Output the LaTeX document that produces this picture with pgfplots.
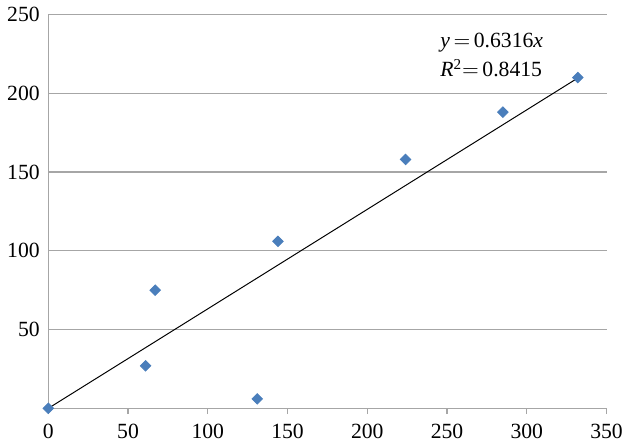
\documentclass[border=0pt]{standalone}
\usepackage{pgfplots}
\pgfplotsset{compat=1.18}
\usepackage{fontspec}
\setmainfont{Liberation Serif}
\definecolor{mkblue}{HTML}{4A7EBB}
\definecolor{gridgray}{HTML}{A6A6A6}
\begin{document}
\fontsize{11}{13}\selectfont
\begin{tikzpicture}
\begin{axis}[
  scale only axis,
  width=283.5pt, height=200pt,
  xmin=0, xmax=350, ymin=0, ymax=250,
  xtick={0,50,...,350},
  ytick={50,100,...,250},
  axis x line*=bottom,
  axis y line*=left,
  axis line style={gridgray, line width=0.6pt, -},
  ymajorgrids,
  grid style={gridgray, line width=0.6pt},
  x tick style={gridgray, line width=0.6pt},
  xtick align=outside,
  major tick length=3pt,
  y tick style={draw=none},
  tick label style={font=\fontsize{11}{13}\selectfont},
  /pgf/number format/assume math mode=true,
  xticklabel style={yshift=-1pt},
  yticklabel style={xshift=-0.5pt},
  clip=false,
]
\addplot[black, line width=0.5pt] coordinates {(0,0) (332,209.7)};
\addplot[only marks, mark=square*, mark size=1.9pt, mkblue, mark options={fill=mkblue, draw=mkblue, rotate=45}] coordinates {
(0,0) (61,27) (67,75) (131,6) (144,106) (224,158) (285,188) (332,210)
};
\node[anchor=west, font=\fontsize{11}{13}\selectfont] at (axis cs:241,232) {$\mathit{y}\,{=}\,$0.6316$\mathit{x}$};
\node[anchor=west, font=\fontsize{11}{13}\selectfont] at (axis cs:241,216) {$\mathit{R}^{\mathrm{2}}{=}\,$0.8415};
\end{axis}
\end{tikzpicture}
\end{document}
